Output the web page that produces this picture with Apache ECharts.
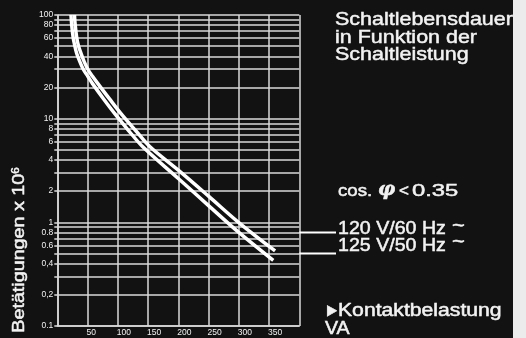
<!DOCTYPE html>
<html>
<head>
<meta charset="utf-8">
<script src="https://cdn.jsdelivr.net/npm/echarts@6/dist/echarts.min.js"></script>
<style>
  html, body { margin: 0; padding: 0; background: #121212; }
  #chart { width: 526px; height: 338px; }
</style>
</head>
<body>
<div id="chart"></div>
<script>
// Switching life (operations x 10^6) as a function of contact load (VA)
const load120 = [28.4, 29.6, 32.2, 35.2, 39.2, 44.1, 50.7, 58.5, 66.8, 86.3, 107.4, 130.1, 153.2, 200, 250, 300, 360];
const life120 = [100, 80, 60, 50, 42.6, 35.9, 29.8, 25.5, 21.9, 15.5, 10.8, 7.6, 5.36, 3.19, 1.79, 0.995, 0.53];

const load125 = [22.6, 23.8, 26.3, 29.1, 32.1, 36.9, 43.1, 50.6, 57.9, 76.5, 97, 118.5, 141.2, 200, 250, 300, 357];
const life125 = [100, 80, 60, 50, 42.6, 35.9, 29.8, 25.5, 21.9, 15.5, 10.8, 7.6, 5.36, 2.65, 1.45, 0.8, 0.43];

// Logarithmic grid lines (1..9 per decade)
const yGridValues = [0.1, 0.2, 0.3, 0.4, 0.5, 0.6, 0.7, 0.8, 0.9,
                     1, 2, 3, 4, 5, 6, 7, 8, 9,
                     10, 20, 30, 40, 50, 60, 70, 80, 90, 100];
// Labelled values on the y axis and their printed text
const yLabelValues = [0.1, 0.2, 0.4, 0.6, 0.8, 1, 2, 4, 6, 8, 10, 20, 40, 60, 80, 100];
const yLabelTexts  = ['0.1', '0,2', '0,4', '0.6', '0.8', '1', '2', '4', '6', '8', '10', '20', '40', '60', '80', '100'];
// Labelled values on the x axis
const xLabelValues = [50, 100, 150, 200, 250, 300, 350];

// Grid lines that are carried on to the voltage labels
const leader120 = 0.8;
const leader125 = 0.5;

const GRID = '#dadada';
const INK = '#f2f2f2';
const SANS = '"Liberation Sans", Arial, Helvetica, sans-serif';

function toPairs(xs, ys) { return xs.map((x, i) => [x, ys[i]]); }

// Text placed by its alphabetic baseline, slightly thickened
function txt(text, x, baseline, size, sx, extra) {
  return Object.assign({
    type: 'text',
    x: x,
    y: baseline - 0.34 * size,
    scaleX: sx,
    silent: true,
    style: {
      text: text,
      fill: INK,
      stroke: INK,
      lineWidth: 0.5,
      font: size + 'px ' + SANS,
      textAlign: 'left',
      textVerticalAlign: 'middle',
      verticalAlign: 'middle'
    }
  }, extra || {});
}

const chart = echarts.init(document.getElementById('chart'), null, { renderer: 'canvas' });

chart.setOption({
  backgroundColor: '#121212',
  animation: false,
  grid: { left: 57.3, right: 226.7, top: 15, bottom: 12, containLabel: false },
  xAxis: {
    type: 'value',
    min: 0,
    max: 400,
    interval: 50,
    axisLine: { show: true, lineStyle: { color: GRID, width: 1.5 } },
    axisTick: { show: false },
    splitLine: { show: true, lineStyle: { color: GRID, width: 1.5 } },
    axisLabel: {
      customValues: xLabelValues,
      color: INK,
      fontFamily: SANS,
      fontSize: 8.5,
      align: 'left',
      margin: 2,
      padding: [0, 0, 0, -1]
    }
  },
  yAxis: {
    type: 'log',
    logBase: 10,
    min: 0.1,
    max: 100,
    axisLine: { show: true, lineStyle: { color: GRID, width: 1.5 } },
    axisTick: {
      show: true,
      customValues: yGridValues,
      length: 3,
      lineStyle: { color: GRID, width: 1.5 }
    },
    splitLine: { show: true, lineStyle: { color: GRID, width: 1.5 } },
    minorSplitLine: { show: false },
    axisLabel: {
      customValues: yLabelValues,
      color: INK,
      fontFamily: SANS,
      fontSize: 8.5,
      margin: 4,
      padding: [0, 0, 4, 0],
      formatter: function (v) {
        let best = 0;
        yLabelValues.forEach((lv, i) => {
          if (Math.abs(Math.log10(lv) - Math.log10(v)) < Math.abs(Math.log10(yLabelValues[best]) - Math.log10(v))) best = i;
        });
        return yLabelTexts[best];
      }
    }
  },
  series: [
    {
      name: '120 V/60 Hz',
      type: 'line',
      data: toPairs(load120, life120),
      smooth: 0.35,
      showSymbol: false,
      symbol: 'none',
      lineStyle: { color: '#ffffff', width: 3.5 },
      z: 5
    },
    {
      name: '125 V/50 Hz',
      type: 'line',
      data: toPairs(load125, life125),
      smooth: 0.35,
      showSymbol: false,
      symbol: 'none',
      lineStyle: { color: '#ffffff', width: 3.5 },
      z: 5
    }
  ]
});

// Leader lines: the 0.8 and 0.5 grid lines continued to the labels
const xRight = chart.convertToPixel({ xAxisIndex: 0 }, 400);
const yLead120 = chart.convertToPixel({ yAxisIndex: 0 }, leader120);
const yLead125 = chart.convertToPixel({ yAxisIndex: 0 }, leader125);

chart.setOption({
  graphic: [
    // paper edge on the right
    { type: 'rect', shape: { x: 513, y: 0, width: 13, height: 338 }, style: { fill: '#ececec' }, silent: true },

    { type: 'line', shape: { x1: xRight, y1: yLead120, x2: 336, y2: yLead120 }, style: { stroke: '#ffffff', lineWidth: 2 }, silent: true },
    { type: 'line', shape: { x1: xRight, y1: yLead125, x2: 336, y2: yLead125 }, style: { stroke: '#ffffff', lineWidth: 2 }, silent: true },

    // y axis title, reading bottom to top
    {
      type: 'text',
      x: 19.5,
      y: 250,
      rotation: Math.PI / 2,
      scaleX: 1.16,
      silent: true,
      style: {
        text: 'Betätigungen x 10{sup|6}',
        fill: INK,
        stroke: INK,
        lineWidth: 0.5,
        font: '17px ' + SANS,
        textAlign: 'center',
        textVerticalAlign: 'middle',
        verticalAlign: 'middle',
        rich: {
          sup: { fontSize: 10, fontFamily: SANS, fill: INK, verticalAlign: 'top', lineHeight: 10 }
        }
      }
    },

    // title block
    txt('Schaltlebensdauer', 335, 26.7, 19, 1.13),
    txt('in Funktion der', 335, 44.2, 19, 1.13),
    txt('Schaltleistung', 335, 61.7, 19, 1.13),

    // power factor note
    txt('cos.', 338, 196.7, 17, 1.1),
    {
      type: 'text',
      x: 378,
      y: 196.7 - 0.34 * 19,
      silent: true,
      style: {
        text: 'φ',
        fill: INK,
        stroke: INK,
        lineWidth: 0.6,
        fontSize: 19,
        fontStyle: 'italic',
        fontWeight: 'bold',
        fontFamily: '"DejaVu Serif", "Liberation Serif", serif',
        textAlign: 'left',
        textVerticalAlign: 'middle',
        verticalAlign: 'middle'
      }
    },
    txt('<', 399, 196.7, 17, 1.0),
    txt('0.35', 412, 196.7, 17, 1.4),

    // voltage labels
    txt('120 V/60 Hz', 338, 235, 18.5, 1.06),
    txt('~', 452, 233, 20, 1.1),
    txt('125 V/50 Hz', 338, 251.7, 18.5, 1.06),
    txt('~', 452, 249.7, 20, 1.1),

    // axis note for contact load
    txt('\u25BA', 324, 316.7, 18, 0.9),
    txt('Kontaktbelastung', 338, 316.7, 17.5, 1.21),
    txt('VA', 325, 335, 17.5, 1.12)
  ]
});
</script>
</body>
</html>
